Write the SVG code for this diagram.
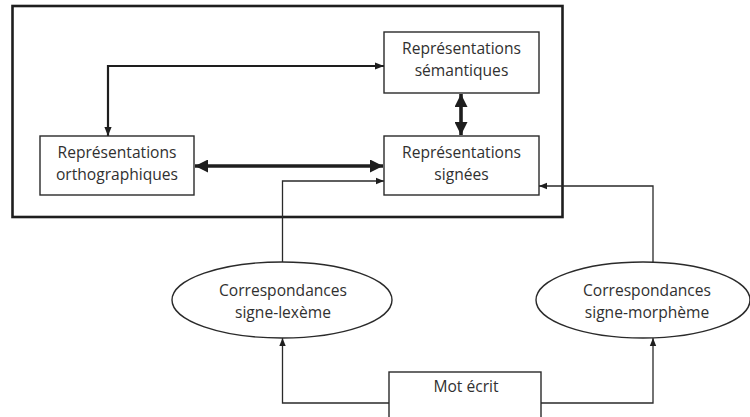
<svg xmlns="http://www.w3.org/2000/svg" width="750" height="417" viewBox="0 0 750 417">
  <style>
    .box { fill: #ffffff; stroke: #2a2a2a; stroke-width: 1.4; }
    .frame { fill: none; stroke: #1e1e1e; stroke-width: 2.6; }
    .lbl { font-family: "Open Sans", "Liberation Sans", Arial, sans-serif; font-size: 15.6px; fill: #303030; text-anchor: middle; }
    .thin { fill: none; stroke: #2a2a2a; stroke-width: 1.3; }
    .mid { fill: none; stroke: #1e1e1e; stroke-width: 2.2; }
    .thick { fill: none; stroke: #1e1e1e; stroke-width: 3.6; }
  </style>
  <defs>
    <marker id="tipSmall" viewBox="0 0 10 10" refX="10" refY="5" markerWidth="8" markerHeight="8" markerUnits="userSpaceOnUse" orient="auto-start-reverse">
      <path d="M0,1 L10,5 L0,9 z" fill="#1e1e1e"/>
    </marker>
    <marker id="tipMid" viewBox="0 0 10 10" refX="10" refY="5" markerWidth="10" markerHeight="9" markerUnits="userSpaceOnUse" orient="auto-start-reverse">
      <path d="M0,1 L10,5 L0,9 z" fill="#1e1e1e"/>
    </marker>
    <marker id="tipBig" viewBox="0 0 10 10" refX="10" refY="5" markerWidth="14" markerHeight="13" markerUnits="userSpaceOnUse" orient="auto-start-reverse">
      <path d="M0,0 L10,5 L0,10 z" fill="#1e1e1e"/>
    </marker>
  </defs>

  <rect width="750" height="417" fill="#ffffff"/>

  <!-- enclosing frame -->
  <rect id="frame" class="frame" x="12.5" y="6" width="550" height="211"/>

  <!-- connectors -->
  <g id="connectors">
    <path class="mid" d="M384,66 L108,66 L108,136" marker-start="url(#tipMid)" marker-end="url(#tipMid)"/>
    <path class="thick" d="M195,166 L383,166" marker-start="url(#tipBig)" marker-end="url(#tipBig)"/>
    <path class="thick" d="M461,94 L461,135" marker-start="url(#tipBig)" marker-end="url(#tipBig)"/>
    <path class="thin" d="M282.5,262 L282.5,181 L384,181" marker-end="url(#tipSmall)"/>
    <path class="thin" d="M653,262 L653,186 L539,186" marker-end="url(#tipSmall)"/>
    <path class="thin" d="M389,403 L282.5,403 L282.5,338" marker-end="url(#tipSmall)"/>
    <path class="thin" d="M541,403 L653,403 L653,338" marker-end="url(#tipSmall)"/>
  </g>

  <g id="semantiques">
    <rect class="box" x="384" y="32" width="155" height="61"/>
    <text class="lbl" x="461.5" y="54">Représentations</text>
    <text class="lbl" x="461.5" y="76">sémantiques</text>
  </g>

  <g id="signees">
    <rect class="box" x="384" y="136" width="155" height="59"/>
    <text class="lbl" x="461.5" y="158">Représentations</text>
    <text class="lbl" x="461.5" y="180">signées</text>
  </g>

  <g id="orthographiques">
    <rect class="box" x="40" y="136" width="154" height="59"/>
    <text class="lbl" x="117" y="158">Représentations</text>
    <text class="lbl" x="117" y="180">orthographiques</text>
  </g>

  <g id="signe-lexeme">
    <ellipse class="box" cx="282" cy="300" rx="110" ry="38"/>
    <text class="lbl" x="283" y="296">Correspondances</text>
    <text class="lbl" x="283" y="318">signe-lexème</text>
  </g>

  <g id="signe-morpheme">
    <ellipse class="box" cx="643" cy="300" rx="107" ry="38"/>
    <text class="lbl" x="647" y="296">Correspondances</text>
    <text class="lbl" x="647" y="318">signe-morphème</text>
  </g>

  <g id="mot-ecrit">
    <rect class="box" x="389" y="372" width="152" height="60"/>
    <text class="lbl" x="466" y="392">Mot écrit</text>
  </g>
</svg>
